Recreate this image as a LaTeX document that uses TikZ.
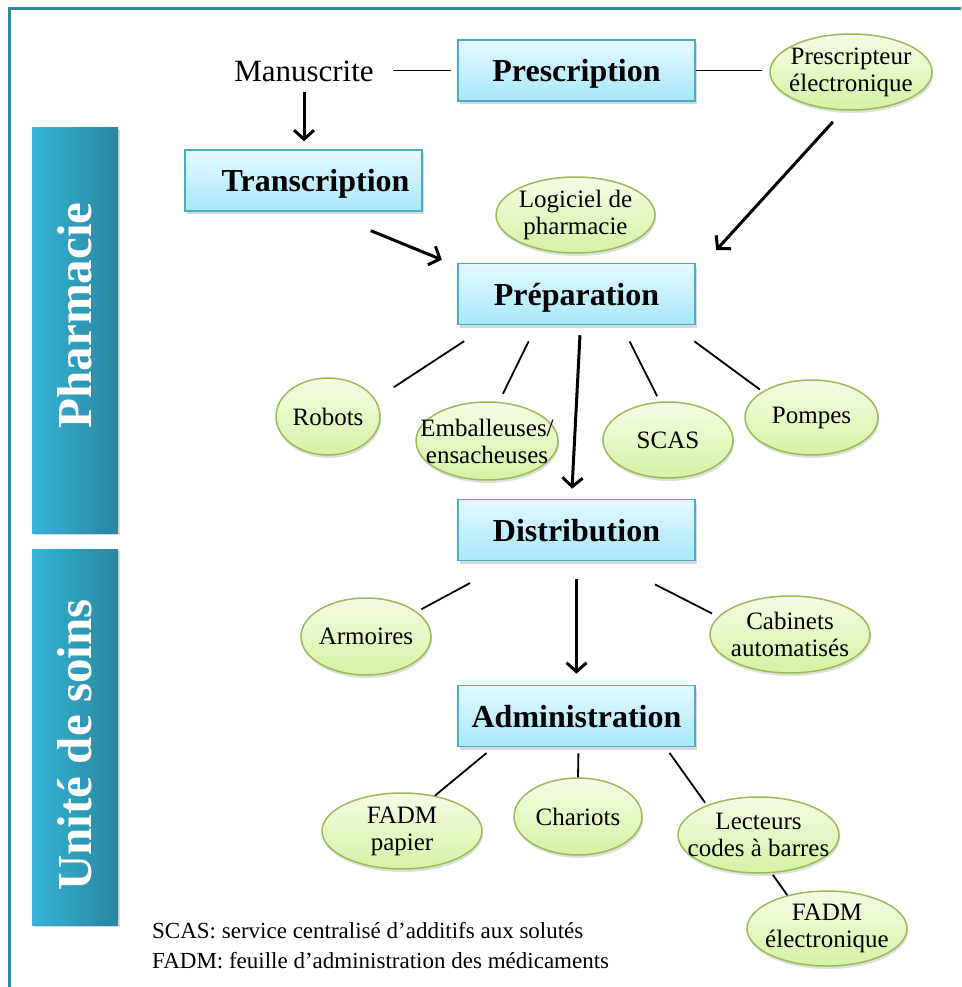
\documentclass[tikz,border=0pt]{standalone}
\usepackage{fontspec}
\setmainfont{Liberation Serif}
\usetikzlibrary{arrows.meta,positioning,shapes.geometric,shadows}

\definecolor{sarcelle}{HTML}{2F8A9C}
\definecolor{bandeauclair}{HTML}{38B3D7}
\definecolor{bandeaufonce}{HTML}{2787A0}
\definecolor{bleuhaut}{HTML}{E4F8FE}
\definecolor{bleubas}{HTML}{A6E8F9}
\definecolor{bordbleu}{HTML}{4AACC5}
\definecolor{verthaut}{HTML}{F4FCE6}
\definecolor{vertbas}{HTML}{D5F2A2}
\definecolor{bordvert}{HTML}{9BBB59}

\tikzset{
  etape/.style={rectangle, draw=bordbleu, line width=1.5pt, top color=bleuhaut, bottom color=bleubas,
    minimum width=237pt, minimum height=61pt, inner sep=0pt, text depth=0pt,
    font=\fontsize{32}{38}\selectfont\bfseries,
    drop shadow={opacity=0.3, shadow xshift=2pt, shadow yshift=-3pt}},
  outil/.style={ellipse, draw=bordvert, line width=1.5pt, top color=verthaut, bottom color=vertbas,
    inner sep=0pt, drop shadow={opacity=0.25, shadow xshift=1pt, shadow yshift=-3pt}},
  etiq/.style={align=center, inner sep=0pt, font=\fontsize{25}{27}\selectfont},
  bandeau/.style={rectangle, rotate=90, left color=bandeauclair, right color=bandeaufonce,
    minimum height=86pt, inner sep=0pt, text=white,
    font=\fontsize{49}{55}\selectfont\bfseries,
    drop shadow={opacity=0.3, shadow xshift=2pt, shadow yshift=-2pt}},
  cadre/.style={draw=sarcelle, line width=3pt},
  fleche/.style={line width=3pt, -{Straight Barb[length=9pt, width=20pt]}},
  lien/.style={line width=1.8pt},
  legende/.style={inner sep=0pt, font=\fontsize{23}{28}\selectfont},
}

\begin{document}
\begin{tikzpicture}[x=1pt, y=-1pt]
	\useasboundingbox (0,0) rectangle (961,987);
	% cadre
	\draw[cadre] (9,987) -- (9,9) -- (961,9);
	% bandeaux
	\node[bandeau, minimum width=405pt] (pharma) at (75,330.5) {\hspace*{30pt}Pharmacie};
	\node[bandeau, minimum width=376pt] (unite) at (75,737) {Unité de soins\hspace*{16pt}};
	% etapes du circuit
	\node[etape] (presc) at (576.5,70.5) {Prescription};
	\node[etape] (trans) at (303.5,180.5) {\hspace*{24pt}Transcription};
	\node[etape] (prep) at (576.5,294) {Préparation};
	\node[etape] (distr) at (576.5,530) {Distribution};
	\node[etape] (admin) at (576.5,716) {Administration};
	\node[anchor=base, inner sep=4pt, font=\fontsize{31}{36}\selectfont] (manus) at (304,82) {Manuscrite};
	% outils
	\node[outil, minimum width=162pt, minimum height=76pt, label={[etiq]center:Prescripteur\\électronique}] (pelec) at (851,72) {};
	\node[outil, minimum width=159pt, minimum height=76pt, label={[etiq]center:Logiciel de\\pharmacie}] (logi) at (575.5,215) {};
	\node[outil, minimum width=104pt, minimum height=77pt, label={[etiq]center:Robots}] (robots) at (328,416.5) {};
	\node[outil, minimum width=142pt, minimum height=78pt, label={[etiq]center:Emballeuses/\\ensacheuses}] (emb) at (487,441) {};
	\node[outil, minimum width=130pt, minimum height=76pt, label={[etiq]center:SCAS}] (scas) at (668,440) {};
	\node[outil, minimum width=133pt, minimum height=75pt, label={[etiq]center:Pompes}] (pompes) at (811.5,417.5) {};
	\node[outil, minimum width=130pt, minimum height=77pt, label={[etiq]center:Armoires}] (armoires) at (366,636.5) {};
	\node[outil, minimum width=160pt, minimum height=77pt, label={[etiq]center:Cabinets\\automatisés}] (cabinets) at (790,634.5) {};
	\node[outil, minimum width=160pt, minimum height=76pt, label={[etiq]center:FADM\\papier}] (fadmp) at (402,831) {};
	\node[outil, minimum width=128pt, minimum height=77pt, label={[etiq]center:Chariots}] (chariots) at (578,816.5) {};
	\node[outil, minimum width=161pt, minimum height=76pt, label={[etiq]center:Lecteurs\\codes à barres}] (lecteurs) at (758.5,835) {};
	\node[outil, minimum width=160pt, minimum height=75pt, label={[etiq]center:FADM\\électronique}] (fadme) at (827,928.5) {};
	% fleches
	\draw[fleche, shorten <=5pt, shorten >=8pt] (manus.south) -- (manus.south |- trans.north);
	\draw[fleche, shorten <=50pt, shorten >=8pt] ([xshift=21pt]trans.south) -- ([xshift=-8pt]prep.north west);
	\draw[fleche, shorten <=15pt, shorten >=17pt] ([xshift=-8pt]pelec.south) -- ([xshift=9pt]prep.north east);
	\draw[fleche, shorten <=10pt, shorten >=10pt] ([xshift=4pt]prep.south) -- ([xshift=-5pt]distr.north);
	\draw[fleche, shorten <=18pt, shorten >=11pt] (distr.south) -- (admin.north);
	% liens
	\draw[lien, shorten <=6pt, shorten >=15pt] (presc.west) -- (presc.west -| manus.east);
	\draw[lien, shorten >=7pt] (presc.east) -- (presc.east -| pelec.west);
	\draw[lien, shorten <=29pt, shorten >=22pt] ([xshift=-88pt]prep.south) -- (robots.20);
	\draw[lien, shorten <=18pt, shorten >=9pt] ([xshift=-40pt]prep.south) -- (emb.73);
	\draw[lien, shorten <=18pt, shorten >=6pt] ([xshift=45pt]prep.south) -- (scas.102);
	\draw[lien, shorten <=27pt, shorten >=3pt] ([xshift=96pt]prep.south) -- (pompes.152);
	\draw[lien, shorten <=46pt, shorten >=5pt] ([xshift=-66pt]distr.south) -- (armoires.26);
	\draw[lien, shorten <=51pt, shorten >=7pt] ([xshift=33pt]distr.south) -- (cabinets.166);
	\draw[lien, shorten <=9pt] ([xshift=-83pt]admin.south) -- (fadmp.47);
	\draw[lien, shorten <=6pt] ([xshift=2pt]admin.south) -- (chariots.north);
	\draw[lien, shorten <=7pt, shorten >=3pt] ([xshift=89pt]admin.south) -- (lecteurs.150);
	\draw[lien, shorten <=2pt] (lecteurs.-71) -- (fadme.140);
	% legende
	\node[legende, anchor=base west] (leg1) at (152,938) {SCAS: service centralisé d’additifs aux solutés};
	\node[legende, anchor=base west] (leg2) at (152,968) {FADM: feuille d’administration des médicaments};
\end{tikzpicture}
\end{document}
